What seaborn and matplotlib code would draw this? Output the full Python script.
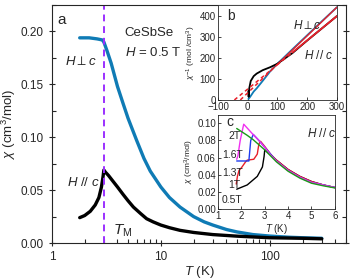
import matplotlib
matplotlib.use("Agg")
import matplotlib.pyplot as plt
import pandas as pd
import seaborn as sns
from matplotlib.ticker import MultipleLocator, LogLocator, NullFormatter

# ---- main panel (a): chi vs T, H = 0.5 T ----
perp_T = [1.8, 2.2, 2.6, 2.9, 3.0, 3.2, 3.5, 4, 4.5, 5, 5.5, 6, 7, 8, 10, 12, 15, 20, 25, 30,
          40, 50, 70, 100, 150, 200, 300]
perp_chi = [0.194, 0.194, 0.193, 0.192, 0.190, 0.182, 0.170, 0.148, 0.132, 0.118, 0.107, 0.097,
            0.080, 0.068, 0.053, 0.043, 0.034, 0.025, 0.020, 0.017, 0.0128, 0.0105, 0.008,
            0.0066, 0.0055, 0.005, 0.0045]
par_T = [1.8, 2.0, 2.25, 2.5, 2.7, 2.85, 2.95, 3.0, 3.1, 3.3, 3.6, 4.0, 4.5, 5, 5.6, 6.5, 7.4,
         8.5, 10, 12, 15, 20, 30, 50, 100, 200, 300]
par_chi = [0.024, 0.026, 0.030, 0.036, 0.043, 0.053, 0.063, 0.069, 0.067, 0.064, 0.059, 0.053,
           0.046, 0.040, 0.034, 0.028, 0.023, 0.020, 0.017, 0.0145, 0.012, 0.010, 0.008,
           0.0065, 0.005, 0.0045, 0.004]
T_M = 3.0

# ---- inset (b): inverse susceptibility ----
b_perp_T = [2, 3, 5, 10, 20, 30, 50, 75, 100, 150, 200, 250, 300]
b_perp_inv = [5, 5, 9, 19, 40, 55, 90, 135, 172, 240, 307, 374, 440]
b_par_T = [1.8, 2.5, 3, 5, 10, 20, 30, 50, 75, 100, 150, 200, 250, 300]
b_par_inv = [42, 22, 14.5, 55, 90, 113, 125, 141, 155, 172, 222, 282, 340, 398]
fit_perp_T = [-25, 100, 300]
fit_perp_inv = [0, 169, 440]
fit_par_T = [-45, 150, 300]
fit_par_inv = [0, 225, 398]

# ---- inset (c): chi vs T for H // c at several fields ----
c_fields = ["0.5T", "1T", "1.3T", "1.6T", "2T"]
c_T = {
    "0.5T": [1.8, 2.25, 2.68, 2.9, 2.97, 3.0, 3.25, 3.5, 4, 4.5, 5, 5.5, 6],
    "1T": [1.78, 1.83, 1.9, 2.0, 2.18, 2.25, 2.53, 2.68, 2.75, 2.82, 3.0, 3.25, 3.5, 4, 4.5, 5, 5.5, 6],
    "1.3T": [1.8, 2.1, 2.32, 2.36, 2.4, 2.51, 2.75, 3.0, 3.25, 3.5, 4, 4.5, 5, 5.5, 6],
    "1.6T": [1.8, 1.85, 1.95, 2.1, 2.3, 2.5, 2.75, 3.0, 3.25, 3.5, 4, 4.5, 5, 5.5, 6],
    "2T": [1.8, 2.25, 2.5, 3.0, 3.5, 4, 4.5, 5, 5.5, 6],
}
c_chi = {
    "0.5T": [0.023, 0.028, 0.038, 0.049, 0.061, 0.069, 0.063, 0.057, 0.046, 0.038, 0.032, 0.028, 0.025],
    "1T": [0.029, 0.038, 0.045, 0.048, 0.055, 0.057, 0.058, 0.064, 0.076, 0.079, 0.073, 0.064, 0.057,
           0.046, 0.038, 0.032, 0.028, 0.025],
    "1.3T": [0.056, 0.056, 0.056, 0.068, 0.080, 0.087, 0.080, 0.072, 0.064, 0.056, 0.045, 0.037,
             0.031, 0.028, 0.025],
    "1.6T": [0.058, 0.062, 0.080, 0.099, 0.093, 0.087, 0.080, 0.072, 0.063, 0.056, 0.045, 0.037,
             0.031, 0.028, 0.025],
    "2T": [0.094, 0.086, 0.081, 0.069, 0.055, 0.044, 0.036, 0.030, 0.027, 0.0245],
}
c_colors = {"0.5T": "black", "1T": "#e8202a", "1.3T": "#1f3cf0", "1.6T": "#f030f0", "2T": "#1a9a1a"}

sns.set_style("ticks")
plt.rcParams["font.family"] = ["Liberation Sans", "DejaVu Sans"]
plt.rcParams["mathtext.fontset"] = "custom"
plt.rcParams["mathtext.rm"] = "Liberation Sans"
plt.rcParams["mathtext.it"] = "Liberation Sans:italic"
plt.rcParams["axes.linewidth"] = 0.8

blue = "#0f7bb5"
red = "#e8202a"

fig = plt.figure(figsize=(3.53, 2.80), dpi=100)
ax = fig.add_axes([0.147, 0.132, 0.833, 0.85])

sns.lineplot(x=perp_T, y=perp_chi, ax=ax, color=blue, lw=2.4, sort=False)
sns.lineplot(x=par_T, y=par_chi, ax=ax, color="black", lw=2.4, sort=False)
ax.axvline(T_M, color="#9b30ff", ls=(0, (3.5, 2.5)), lw=1.4)

ax.set_xscale("log")
ax.set_xlim(1, 500)
ax.set_ylim(0, 0.225)
ax.yaxis.set_minor_locator(MultipleLocator(0.025))
ax.set_yticks([0, 0.05, 0.10, 0.15, 0.20])
ax.set_yticklabels(["0.00", "0.05", "0.10", "0.15", "0.20"])
ax.xaxis.set_minor_locator(LogLocator(base=10, subs=range(2, 10), numticks=20))
ax.xaxis.set_minor_formatter(NullFormatter())
ax.set_xticks([1, 10, 100])
ax.set_xticklabels(["1", "10", "100"])
ax.tick_params(which="major", direction="inout", length=5, width=0.8, labelsize=8.5, right=True)
ax.tick_params(which="minor", direction="in", length=3, width=0.8, right=True)
ax.set_xlabel(r"$T$ (K)", fontsize=9.5, labelpad=0.5)
ax.set_ylabel(r"$\chi$ (cm$^3$/mol)", fontsize=9.5, labelpad=2)

ax.text(0.02, 0.937, "a", transform=ax.transAxes, fontsize=11, va="center")
ax.text(0.248, 0.882, "CeSbSe", transform=ax.transAxes, fontsize=9.5, va="center")
ax.text(0.248, 0.802, r"$H$ = 0.5 T", transform=ax.transAxes, fontsize=9.5, va="center")
ax.text(0.044, 0.761, r"$H\perp c$", transform=ax.transAxes, fontsize=9.5, va="center")
ax.text(0.051, 0.256, r"$H$ // $c$", transform=ax.transAxes, fontsize=9.5, va="center")
ax.text(0.207, 0.05, r"$T_{\rm M}$", transform=ax.transAxes, fontsize=11, va="center")

# ---- inset b ----
axb = fig.add_axes([0.6176, 0.643, 0.337, 0.339])
axb.set_facecolor("white")
sns.lineplot(x=b_perp_T, y=b_perp_inv, ax=axb, color=blue, lw=1.3, sort=False)
sns.lineplot(x=b_par_T, y=b_par_inv, ax=axb, color="black", lw=1.3, sort=False)
axb.plot(fit_perp_T[:2], fit_perp_inv[:2], color=red, lw=1.1, ls=(0, (2.5, 2)))
axb.plot(fit_perp_T[1:], fit_perp_inv[1:], color=red, lw=1.0)
axb.plot(fit_par_T[:2], fit_par_inv[:2], color=red, lw=1.1, ls=(0, (2.5, 2)))
axb.plot(fit_par_T[1:], fit_par_inv[1:], color=red, lw=1.3)
axb.set_xlim(-100, 300)
axb.set_ylim(0, 450)
axb.set_xticks([-100, 0, 100, 200, 300])
axb.set_yticks([0, 100, 200, 300, 400])
axb.tick_params(direction="in", length=2.5, width=0.6, labelsize=7, pad=1.5)
axb.set_ylabel(r"$\chi^{-1}$ (mol /cm$^3$)", fontsize=6, labelpad=1)
for s in axb.spines.values():
    s.set_linewidth(0.6)
axb.text(0.08, 0.88, "b", transform=axb.transAxes, fontsize=10, va="center")
axb.text(0.63, 0.78, r"$H\perp c$", transform=axb.transAxes, fontsize=8.5, va="center")
axb.text(0.72, 0.47, r"$H$ // $c$", transform=axb.transAxes, fontsize=8.5, va="center")

# ---- inset c ----
axc = fig.add_axes([0.6176, 0.254, 0.331, 0.336])
axc.set_facecolor("white")
rows = []
for f in c_fields:
    for t, v in zip(c_T[f], c_chi[f]):
        rows.append({"T": t, "chi": v, "field": f})
df_c = pd.DataFrame(rows)
sns.lineplot(data=df_c, x="T", y="chi", hue="field", palette=c_colors, ax=axc,
             lw=1.0, sort=False, legend=False, estimator=None)
axc.set_xlim(1, 6)
axc.set_ylim(0, 0.11)
axc.set_xticks([1, 2, 3, 4, 5, 6])
axc.set_yticks([0, 0.02, 0.04, 0.06, 0.08, 0.10])
axc.set_yticklabels(["0.00", "0.02", "0.04", "0.06", "0.08", "0.10"])
axc.tick_params(direction="in", length=2.5, width=0.6, labelsize=7, pad=1.5)
axc.set_xlabel(r"$T$ (K)", fontsize=7, labelpad=0.5)
axc.set_ylabel(r"$\chi$ (cm$^3$/mol)", fontsize=6, labelpad=1)
for s in axc.spines.values():
    s.set_linewidth(0.6)
axc.text(0.07, 0.92, "c", transform=axc.transAxes, fontsize=10, va="center")
axc.text(0.76, 0.80, r"$H$ // $c$", transform=axc.transAxes, fontsize=8.5, va="center")
labels_pos = {"2T": 0.77, "1.6T": 0.57, "1.3T": 0.38, "1T": 0.25, "0.5T": 0.09}
lab_x = {"2T": 0.09, "1.6T": 0.04, "1.3T": 0.04, "1T": 0.09, "0.5T": 0.03}
for f in c_fields:
    axc.text(lab_x[f], labels_pos[f], f, transform=axc.transAxes, fontsize=7.5, va="center")

fig.savefig("out.png", dpi=100)
